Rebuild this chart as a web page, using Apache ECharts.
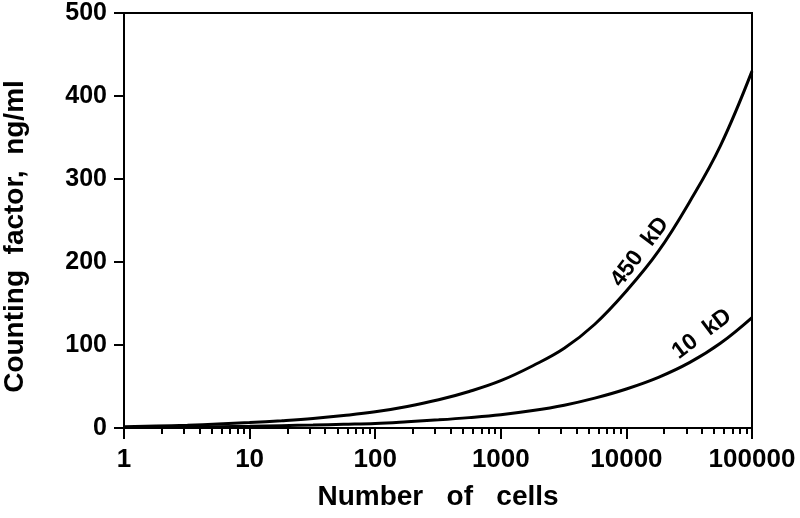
<!DOCTYPE html>
<html>
<head>
<meta charset="utf-8">
<script src="https://cdn.jsdelivr.net/npm/echarts@6/dist/echarts.min.js"></script>
<style>html,body{margin:0;padding:0;background:#fff}#c{width:800px;height:518px}</style>
</head>
<body>
<div id="c"></div>
<script>
// Data (roughly quarter-decade steps)
var cells  = [1, 1.8, 3.2, 5.6, 10, 18, 32, 56, 100, 180, 320, 560, 1000, 1800, 3200, 5600, 10000, 18000, 32000, 56000, 100000];
var kd450  = [1.5, 2.4, 3.4, 4.8, 6.5, 8.8, 11.5, 15, 19.5, 26, 34, 44, 57, 75, 96, 125, 165, 213, 273, 340, 430];
var kd10   = [0.5, 0.8, 1.1, 1.5, 2, 2.8, 3.6, 4.5, 5.5, 7.5, 9.8, 12.5, 16, 21, 27.5, 36, 47, 61, 79, 102, 133];
var xTickLabels = [1, 10, 100, 1000, 10000, 100000];
var yTickLabels = [0, 100, 200, 300, 400, 500];
var seriesNames = ['450  kD', '10  kD'];

var minorTicks = [];
for (var d = 0; d < 5; d++) for (var k = 2; k <= 9; k++) minorTicks.push(Math.log10(k * Math.pow(10, d)));

function pairs(xs, ys) { return xs.map(function (x, i) { return [x, ys[i]]; }); }

var FONT = '"Liberation Sans", Arial, Helvetica, sans-serif';
var chart = echarts.init(document.getElementById('c'), null, {renderer: 'canvas'});
chart.setOption({
  animation: false,
  backgroundColor: '#fff',
  grid: {left: 124, right: 48, top: 13, bottom: 90, outerBoundsMode: 'none', containLabel: false,
         show: true, borderColor: '#000', borderWidth: 2, backgroundColor: 'transparent'},
  xAxis: [{
    type: 'log', logBase: 10, min: xTickLabels[0], max: xTickLabels[xTickLabels.length - 1],
    name: 'Number   of   cells', nameLocation: 'middle', nameGap: 55,
    nameTextStyle: {fontFamily: FONT, fontWeight: 'bold', fontSize: 28, color: '#000'},
    axisLine: {show: true, lineStyle: {color: '#000', width: 2}},
    axisTick: {show: true, inside: false, length: 11, lineStyle: {color: '#000', width: 2}},
    axisLabel: {fontFamily: FONT, fontWeight: 'bold', fontSize: 26, color: '#000', margin: 19,
      formatter: function (v) { return String(Math.round(v)); }},
    splitLine: {show: false}
  }, {
    type: 'value', min: 0, max: 5, position: 'bottom',
    axisLine: {show: false},
    axisTick: {show: true, length: 6, customValues: minorTicks, lineStyle: {color: '#000', width: 2}},
    axisLabel: {show: false},
    splitLine: {show: false}
  }],
  yAxis: {
    type: 'value', min: yTickLabels[0], max: yTickLabels[yTickLabels.length - 1], interval: 100,
    name: 'Counting  factor,  ng/ml', nameLocation: 'middle', nameGap: 95, nameRotate: 90,
    nameTextStyle: {fontFamily: FONT, fontWeight: 'bold', fontSize: 28, color: '#000', padding: [0, 32, 0, 0]},
    axisLine: {show: true, lineStyle: {color: '#000', width: 2}},
    axisTick: {show: true, inside: false, length: 10, lineStyle: {color: '#000', width: 2}},
    axisLabel: {fontFamily: FONT, fontWeight: 'bold', fontSize: 25, color: '#000', margin: 17},
    splitLine: {show: false}
  },
  series: [{
    name: seriesNames[0], type: 'line', xAxisIndex: 0, data: pairs(cells, kd450),
    smooth: 0.4, showSymbol: false, symbol: 'none',
    lineStyle: {color: '#000', width: 3}
  }, {
    name: seriesNames[1], type: 'line', xAxisIndex: 0, data: pairs(cells, kd10),
    smooth: 0.4, showSymbol: false, symbol: 'none',
    lineStyle: {color: '#000', width: 3}
  }],
  graphic: [{
    type: 'text', x: 640, y: 252, rotation: 53 * Math.PI / 180,
    style: {text: seriesNames[0], font: 'bold 23px ' + FONT, fill: '#000', textAlign: 'center', textVerticalAlign: 'middle'}
  }, {
    type: 'text', x: 702, y: 334, rotation: 37 * Math.PI / 180,
    style: {text: seriesNames[1], font: 'bold 23px ' + FONT, fill: '#000', textAlign: 'center', textVerticalAlign: 'middle'}
  }]
});
</script>
</body>
</html>
